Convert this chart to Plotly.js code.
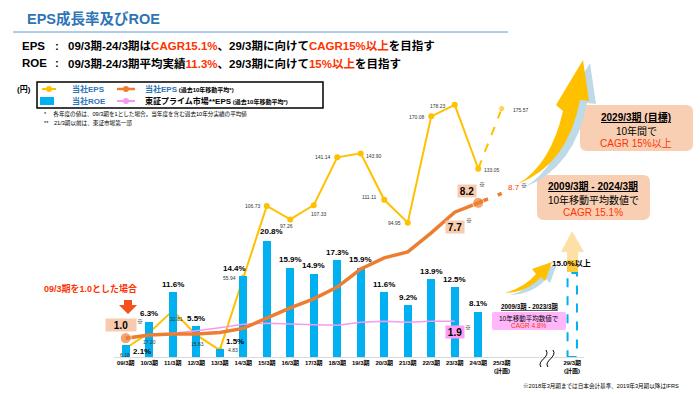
<!DOCTYPE html>
<html><head><meta charset="utf-8">
<script src="https://cdn.plot.ly/plotly-3.0.1.min.js"></script>
<style>html,body{margin:0;padding:0;background:#fff;}#chart{width:700px;height:394px;}</style>
</head><body><div id="chart"></div>
<script>
// ---------- data ----------
const periods = ['09/3期','10/3期','11/3期','12/3期','13/3期','14/3期','15/3期','16/3期','17/3期','18/3期','19/3期','20/3期','21/3期','22/3期','23/3期','24/3期','25/3期'];
const targetPeriod = '29/3期';
const planNote = '(計画)';
const epsActual = [6.18,17.20,32.81,15.63,4.83,55.94,106.73,97.26,107.33,141.14,143.90,111.11,94.95,170.08,178.23,133.05];
const epsPlan25 = 175.57;
const roeActual = [2.1,6.3,11.6,5.5,1.5,14.4,20.8,15.9,14.9,17.3,15.9,11.6,9.2,13.9,12.5,8.1];
const roeTarget29 = 15.0;
const epsMA = [1.0,1.17,1.22,1.22,1.30,1.52,2.07,2.61,3.09,3.72,4.68,5.27,5.59,6.60,7.7,8.2];
const epsMAPlan25 = 8.7;
const primeMA = [1.0,1.13,1.26,1.40,1.56,1.74,1.79,1.77,1.72,1.69,1.85,1.90,1.85,1.90,1.9];

// ---------- helpers ----------
const FONT = 'Liberation Sans, Noto Sans CJK JP, sans-serif';
const L = 114, W = 470, T = 95, H = 262, B = T + H;
const px = x => (x - L) / W;
const py = y => (B - y) / H;
const pth = s => s.replace(/(-?\d+(?:\.\d+)?),(-?\d+(?:\.\d+)?)/g, (m, a, b) => px(+a).toFixed(5) + ',' + py(+b).toFixed(5));
const shift = (s, dx, dy) => s.replace(/(-?\d+(?:\.\d+)?),(-?\d+(?:\.\d+)?)/g, (m, a, b) => (+a + dx) + ',' + (+b + dy));
const rrect = (x0, y0, x1, y1, r) => pth(`M ${x0+r},${y0} L ${x1-r},${y0} Q ${x1},${y0} ${x1},${y0+r} L ${x1},${y1-r} Q ${x1},${y1} ${x1-r},${y1} L ${x0+r},${y1} Q ${x0},${y1} ${x0},${y1-r} L ${x0},${y0+r} Q ${x0},${y0} ${x0+r},${y0} Z`);
function ann(x, y, text, size, opts) {
  return Object.assign({xref:'paper', yref:'paper', x:px(x), y:py(y), text, showarrow:false,
    font:{size, family:FONT, color:'#000'}, xanchor:'center', yanchor:'middle'}, opts || {});
}

const idx = periods.map((p, i) => i);
const actIdx = idx.slice(0, epsActual.length);
const idx25 = periods.length - 1;
const idx29 = periods.length + 2;   // fiscal years 26-28 are skipped on the axis
const tickVals = idx.concat([idx29]);
const tickText = periods.concat([targetPeriod]);

const C_EPS = '#FFC000', C_MA = '#ED7D31', C_ROE = '#00B0F0', C_PRIME = '#F59AF0', RED = '#FF3300', BLUE = '#2E75B6';

// ---------- traces ----------
const traces = [
  {type:'bar', x:actIdx, y:roeActual, yaxis:'y2', width:0.35, marker:{color:C_ROE}, hoverinfo:'skip'},
  {type:'scatter', mode:'lines', x:idx.slice(0, primeMA.length), y:primeMA, yaxis:'y3', line:{color:C_PRIME, width:1.5}},
  {type:'scatter', mode:'lines', x:[actIdx[actIdx.length-1], idx25], y:[epsMA[epsMA.length-1], epsMAPlan25], yaxis:'y3', line:{color:C_MA, width:3.5, dash:'dash'}},
  {type:'scatter', mode:'lines+markers', x:actIdx, y:epsMA, yaxis:'y3', line:{color:C_MA, width:3.5},
    marker:{color:C_MA, size:epsMA.map((v, i) => (i === 0 || i === epsMA.length - 1) ? 11 : 0)}},
  {type:'scatter', mode:'lines+markers', x:[actIdx[actIdx.length-1], idx25], y:[epsActual[epsActual.length-1], epsPlan25], yaxis:'y', line:{color:C_EPS, width:2, dash:'dash'}, marker:{color:C_EPS, size:[0, 6]}},
  {type:'scatter', mode:'lines+markers', x:actIdx, y:epsActual, yaxis:'y', line:{color:C_EPS, width:2}, marker:{color:C_EPS, size:6}}
];

// ---------- annotations ----------
const anns = [];
anns.push(ann(25, 19, '<b>EPS成長率及びROE</b>', 14.5, {xanchor:'left', font:{size:14.5, family:FONT, color:BLUE}}));
const R = s => `<span style="color:${RED}">${s}</span>`;
const HF = 11.5;
anns.push(ann(20, 46, '<b>EPS</b>', HF, {xanchor:'left'}));
anns.push(ann(57, 46, '<b>:</b>', HF));
anns.push(ann(66, 46, `<b>09/3期-24/3期は${R('CAGR15.1%')}、29/3期に向けて${R('CAGR15%以上')}を目指す</b>`, HF, {xanchor:'left'}));
anns.push(ann(20, 63, '<b>ROE</b>', HF, {xanchor:'left'}));
anns.push(ann(57, 63, '<b>:</b>', HF));
anns.push(ann(66, 63, `<b>09/3期-24/3期平均実績${R('11.3%')}、29/3期に向けて${R('15%以上')}を目指す</b>`, HF, {xanchor:'left'}));

// legend (manual)
anns.push(ann(24, 89, '<b>(円)</b>', 8));
anns.push(ann(70, 89, '<b>当社EPS</b>', 8, {xanchor:'left', font:{size:8, family:FONT, color:BLUE}}));
anns.push(ann(143, 89, `<b><span style="color:${BLUE}">当社EPS</span></b><span style="font-size:6px"><b> (過去10年移動平均*)</b></span>`, 8, {xanchor:'left'}));
anns.push(ann(70, 101, '<b>当社ROE</b>', 8, {xanchor:'left', font:{size:8, family:FONT, color:BLUE}}));
anns.push(ann(143, 101, '<b>東証プライム市場**EPS</b><span style="font-size:6px"><b> (過去10年移動平均*)</b></span>', 8, {xanchor:'left'}));
anns.push(ann(42, 114, '*　 各年度の値は、09/3期を1とした場合。当年度を含む過去10年分実績の平均値', 5.6, {xanchor:'left'}));
anns.push(ann(42, 123, '**　21/3期以前は、東証市場第一部', 5.6, {xanchor:'left'}));

// ROE labels
const roeShift = {0:[16,-6], 4:[15,7], 5:[-9,8], 6:[5,9]};
roeActual.forEach((v, i) => {
  const s = roeShift[i] || [0, 8];
  anns.push({xref:'x', yref:'y2', x:i, y:v, text:'<b>' + v.toFixed(1) + '%</b>', showarrow:false,
    xshift:s[0], yshift:s[1], font:{size:8, family:FONT, color:'#000'}});
});
// EPS labels
const epsShift = [[-1,-7],[0,-9],[4,-8],[1,-9],[13,0],[-14,0],[-14,0],[-4,-7],[5,-9],[-14,0],[13,-3],[-15,3],[-13,0],[-14,-1],[-17,-1],[14,-1]];
epsActual.forEach((v, i) => {
  anns.push({xref:'x', yref:'y', x:i, y:v, text:v.toFixed(2), showarrow:false,
    xshift:epsShift[i][0], yshift:epsShift[i][1], font:{size:5, family:FONT, color:'#333'}});
});
anns.push({xref:'x', yref:'y', x:idx25, y:epsPlan25, text:epsPlan25.toFixed(2), showarrow:false, xshift:19, yshift:-1, font:{size:5, family:FONT, color:'#333'}});

// MA labels
const PEACH = '#F8CBAD';
const boxLab = (x, y, yref, v, xs, ys, bg) => ({xref:'x', yref, x, y, text:'<b>' + v.toFixed(1) + '</b>', showarrow:false,
  xshift:xs, yshift:ys, bgcolor:bg, width:18, height:12, borderpad:0, font:{size:10, family:FONT, color:'#000'}});
const star = (x, y, yref, xs, ys) => ({xref:'x', yref, x, y, text:'※', showarrow:false, xshift:xs, yshift:ys, font:{size:6, family:FONT, color:'#000'}});
anns.push(Object.assign(boxLab(0, epsMA[0], 'y3', epsMA[0], -5, 13, PEACH), {width:30}));
anns.push(star(0, epsMA[0], 'y3', 14, 16));
anns.push(boxLab(14, epsMA[14], 'y3', epsMA[14], 0, -15, PEACH));
anns.push(star(14, epsMA[14], 'y3', 14, -9));
anns.push(boxLab(15, epsMA[15], 'y3', epsMA[15], -11, 12, PEACH));
anns.push(star(15, epsMA[15], 'y3', 4, 18));
anns.push({xref:'x', yref:'y3', x:idx25, y:epsMAPlan25, text:'8.7', showarrow:false, xshift:12, yshift:6, font:{size:8, family:FONT, color:RED}});
anns.push(star(idx25, epsMAPlan25, 'y3', 22, 7));
anns.push(boxLab(14, primeMA[14], 'y3', primeMA[14], 0, -11, '#FF9CF5'));
anns.push(star(14, primeMA[14], 'y3', 13, -7));

// callouts
anns.push(ann(90, 288, '<b>09/3期を1.0とした場合</b>', 9, {font:{size:9, family:FONT, color:RED}}));
anns.push(ann(636, 117, '<b><u>2029/3期 (目標)</u></b>', 10));
anns.push(ann(636, 131, '10年間で', 10));
anns.push(ann(636, 143, 'CAGR 15%以上', 10, {font:{size:10, family:FONT, color:RED}}));
anns.push(ann(593, 186, '<b><u>2009/3期 - 2024/3期</u></b>', 10));
anns.push(ann(593, 200, '10年移動平均数値で', 10));
anns.push(ann(593, 212, 'CAGR 15.1%', 10, {font:{size:10, family:FONT, color:RED}}));
anns.push(ann(529, 306, '<b><u>2009/3期 - 2023/3期</u></b>', 6.3));
anns.push(ann(529, 318, '10年移動平均数値で', 6.5));
anns.push(ann(529, 325, 'CAGR 4.8%', 6.5, {font:{size:6.5, family:FONT, color:RED}}));
anns.push(ann(571, 263, '<b>15.0%以上</b>', 8));
anns.push(ann(601, 386, '※2018年3月期までは日本会計基準、2019年3月期以降はIFRS', 5.6));
anns.push({xref:'x', yref:'paper', x:idx25, y:py(377), text:'<b>' + planNote + '</b>', showarrow:false, font:{size:6, family:FONT, color:'#000'}});
anns.push({xref:'x', yref:'paper', x:idx29, y:py(377), text:'<b>' + planNote + '</b>', showarrow:false, font:{size:6, family:FONT, color:'#000'}});

// ---------- shapes ----------
const shapes = [];
const S = (o) => shapes.push(Object.assign({xref:'paper', yref:'paper', layer:'above'}, o));
S({type:'line', x0:px(13), x1:px(508), y0:py(32), y1:py(32), line:{color:'#5B9BD5', width:1}});
S({type:'rect', x0:px(37), x1:px(323), y0:py(82), y1:py(108), line:{color:'#000', width:1.5}});
S({type:'line', x0:px(42), x1:px(56), y0:py(89), y1:py(89), line:{color:C_EPS, width:2}});
S({type:'circle', x0:px(46), x1:px(52), y0:py(86), y1:py(92), fillcolor:C_EPS, line:{width:0}});
S({type:'line', x0:px(117), x1:px(135), y0:py(89), y1:py(89), line:{color:C_MA, width:2.5}});
S({type:'circle', x0:px(123), x1:px(129), y0:py(86), y1:py(92), fillcolor:C_MA, line:{width:0}});
S({type:'rect', x0:px(40), x1:px(54), y0:py(97), y1:py(105), fillcolor:C_ROE, line:{width:0}});
S({type:'line', x0:px(117), x1:px(135), y0:py(101), y1:py(101), line:{color:C_PRIME, width:2}});
S({type:'circle', x0:px(123), x1:px(129), y0:py(98), y1:py(104), fillcolor:C_PRIME, line:{width:0}});
S({type:'path', path:rrect(580,105,693,151,7), fillcolor:'#F9CFB4', line:{width:0}, layer:'below'});
S({type:'path', path:rrect(537,175,650,220,7), fillcolor:'#F9CFB4', line:{width:0}, layer:'below'});
S({type:'path', path:rrect(492,312,566,330,2), fillcolor:'#FFB6FB', line:{width:0}, layer:'below'});
const bigArrow = 'M 518,184 Q 551,164 563,111 L 556,105 L 583,60 L 589,101 L 580,100 Q 568,164 518,184 Z';
S({type:'path', path:pth(shift(bigArrow, 7, 3)), fillcolor:'#BCDAE8', line:{width:0}, layer:'below'});
S({type:'path', path:pth(bigArrow), fillcolor:C_EPS, line:{width:0}, layer:'below'});
const smallArrow = 'M 505,293 Q 525,287 536,274 L 532,269 L 552,262 L 545,281 L 541,277 Q 528,292 505,293 Z';
S({type:'path', path:pth(shift(smallArrow, 5, 2)), fillcolor:'#BCDAE8', line:{width:0}, layer:'below'});
S({type:'path', path:pth(smallArrow), fillcolor:C_EPS, line:{width:0}, layer:'below'});
S({type:'path', path:pth('M 567,272 L 567,252 L 561,252 L 572,231 L 584,252 L 578,252 L 578,272 Z'), fillcolor:'#FDE0A6', line:{width:0}, layer:'below'});
S({type:'rect', x0:px(567), x1:px(578), y0:py(260), y1:py(272), fillcolor:'#FFCB3A', line:{width:0}, layer:'below'});
shapes.push({type:'rect', xref:'x', yref:'y2', x0:idx29 - 0.2, x1:idx29 + 0.2, y0:0, y1:roeTarget29,
  fillcolor:'#FFFFFF', line:{color:C_ROE, width:2, dash:'dash'}, layer:'above'});
S({type:'path', path:pth('M 541,367 C 536,361 551,357 546,350'), line:{color:'#000', width:1}});
S({type:'path', path:pth('M 548,367 C 543,361 558,357 553,350'), line:{color:'#000', width:1}});
S({type:'path', path:pth('M 124,300 L 132,300 L 132,305 L 137,305 L 128,314 L 119,305 L 124,305 Z'), fillcolor:'#F4511E', line:{width:0}});

const layout = {
  width:700, height:394,
  margin:{l:L, r:700 - L - W, t:T, b:394 - B},
  paper_bgcolor:'#fff', plot_bgcolor:'rgba(0,0,0,0)',
  showlegend:false, bargap:0,
  font:{family:FONT, color:'#000'},
  xaxis:{type:'linear', range:[-0.5, 19.5], showgrid:false, zeroline:false, showline:true, linecolor:'#D9D9D9', linewidth:1,
    tickmode:'array', tickvals:tickVals, ticktext:tickText.map(t => '<b>' + t + '</b>'), ticks:'', tickfont:{size:6, family:FONT, color:'#000'}, fixedrange:true},
  yaxis:{range:[0, H / 1.415], visible:false, fixedrange:true},
  yaxis2:{range:[0, H / 5.6], overlaying:'y', visible:false, fixedrange:true},
  yaxis3:{range:[0, H / 18.8], overlaying:'y', visible:false, fixedrange:true},
  annotations:anns, shapes:shapes
};
Plotly.newPlot('chart', traces, layout, {staticPlot:true, displayModeBar:false});
</script></body></html>
